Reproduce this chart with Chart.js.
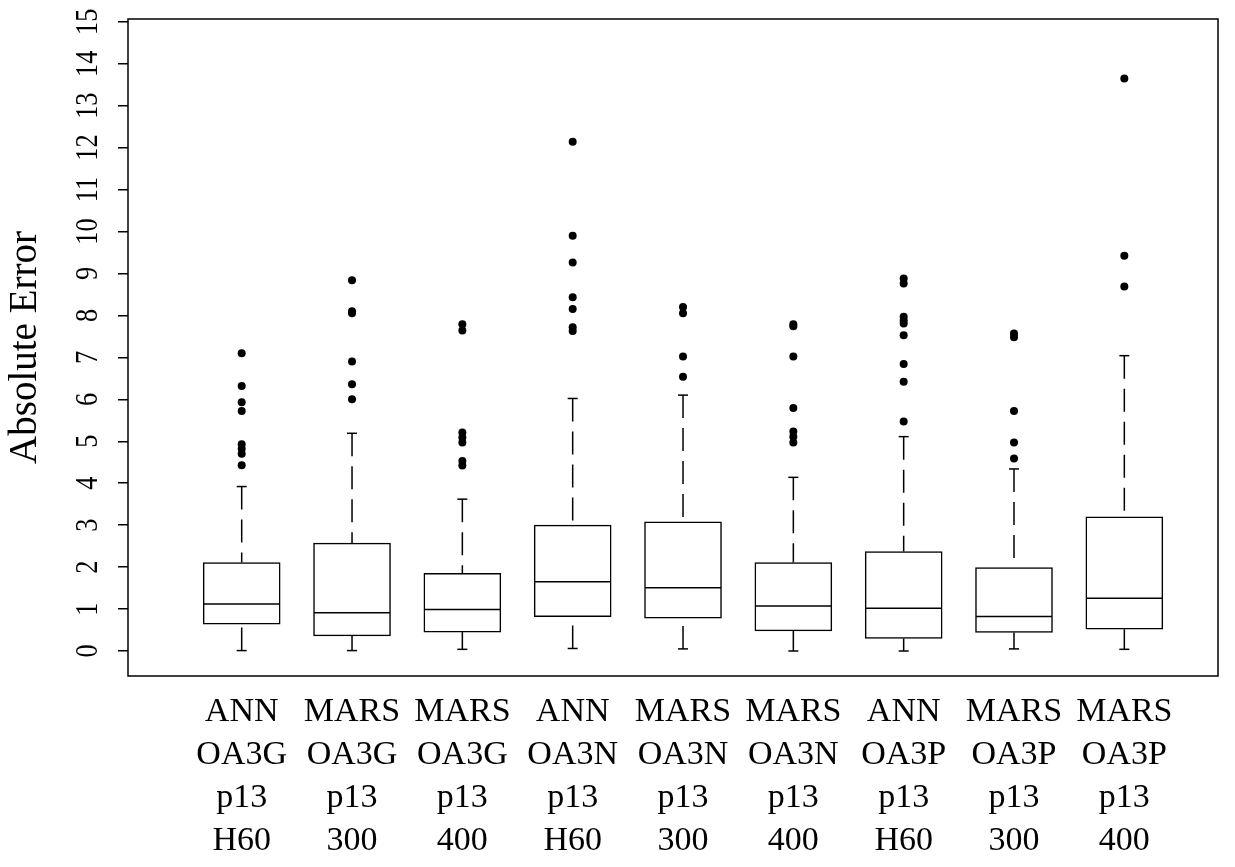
<!DOCTYPE html>
<html>
<head>
<meta charset="utf-8">
<title>Absolute Error</title>
<script src="https://cdn.jsdelivr.net/npm/chart.js@4.4.1/dist/chart.umd.min.js"></script>
<style>
  html, body { margin: 0; padding: 0; background: #fff; }
  #wrap { width: 1235px; height: 867px; position: relative; }
</style>
</head>
<body>
<div id="wrap"><canvas id="boxChart"></canvas></div>
<script>
// Category labels, one entry per box (4 text lines each)
const categories = [
    ['ANN', 'OA3G', 'p13', 'H60'],
    ['MARS', 'OA3G', 'p13', '300'],
    ['MARS', 'OA3G', 'p13', '400'],
    ['ANN', 'OA3N', 'p13', 'H60'],
    ['MARS', 'OA3N', 'p13', '300'],
    ['MARS', 'OA3N', 'p13', '400'],
    ['ANN', 'OA3P', 'p13', 'H60'],
    ['MARS', 'OA3P', 'p13', '300'],
    ['MARS', 'OA3P', 'p13', '400']
];

// Box statistics
const lowerWhisker = [0.01, 0.01, 0.04, 0.06, 0.05, 0.00, 0.00, 0.05, 0.04];
const q1           = [0.64, 0.36, 0.45, 0.82, 0.78, 0.48, 0.30, 0.44, 0.52];
const median       = [1.12, 0.91, 0.99, 1.65, 1.51, 1.07, 1.02, 0.82, 1.26];
const q3           = [2.11, 2.57, 1.85, 3.00, 3.08, 2.11, 2.37, 1.99, 3.20];
const upperWhisker = [3.92, 5.19, 3.62, 6.02, 6.10, 4.14, 5.11, 4.34, 7.04];

// Outliers per box
const outliers = [
    [7.10, 6.32, 5.93, 5.72, 4.93, 4.82, 4.70, 4.43],
    [8.84, 8.10, 8.05, 6.90, 6.36, 6.00],
    [7.79, 7.64, 5.21, 5.09, 4.97, 4.53, 4.42],
    [12.14, 9.90, 9.26, 8.43, 8.15, 7.72, 7.63],
    [8.20, 8.05, 7.02, 6.54],
    [7.79, 7.74, 7.02, 5.79, 5.23, 5.11, 4.97],
    [8.88, 8.76, 7.97, 7.88, 7.81, 7.53, 6.84, 6.42, 5.47],
    [7.57, 7.48, 5.72, 4.97, 4.59],
    [13.65, 9.42, 8.69]
];

const yTicks = [0, 1, 2, 3, 4, 5, 6, 7, 8, 9, 10, 11, 12, 13, 14, 15];
const yTitle = 'Absolute Error';

const FONT = '"Liberation Serif", "Times New Roman", serif';
const positions = categories.map((c, i) => i + 1);

// Whisker segments, drawn from the cap towards the box so the dashes start at the cap
function whiskerPoints(from, to) {
    const pts = [];
    positions.forEach((x, i) => {
        pts.push({ x, y: from[i] }, { x, y: to[i] }, { x, y: null });
    });
    return pts;
}

const capPoints = positions.flatMap((x, i) => [{ x, y: upperWhisker[i] }, { x, y: lowerWhisker[i] }]);
const medianPoints = positions.map((x, i) => ({ x, y: median[i] }));
const outlierPoints = positions.flatMap((x, i) => outliers[i].map(v => ({ x, y: v })));
const boxPoints = positions.map((x, i) => ({ x, y: [q1[i], q3[i]] }));

// Frame, rotated y tick labels and multi-line category labels
const frameAndLabels = {
    id: 'frameAndLabels',
    afterDraw(chart) {
        const { ctx, chartArea: a, scales: { x, y } } = chart;
        ctx.save();
        ctx.strokeStyle = '#000';
        ctx.lineWidth = 1.5;
        ctx.strokeRect(a.left, a.top, a.right - a.left, a.bottom - a.top);

        ctx.fillStyle = '#000';
        ctx.font = `31px ${FONT}`;
        ctx.textAlign = 'center';
        ctx.textBaseline = 'alphabetic';
        yTicks.forEach(v => {
            ctx.save();
            ctx.translate(a.left - 31, y.getPixelForValue(v));
            ctx.rotate(-Math.PI / 2);
            ctx.scale(0.85, 1);
            ctx.fillText(String(v), 0, 0);
            ctx.restore();
        });

        ctx.font = `34px ${FONT}`;
        ctx.textBaseline = 'middle';
        categories.forEach((lines, i) => {
            const px = x.getPixelForValue(positions[i]);
            lines.forEach((t, j) => ctx.fillText(t, px, a.bottom + 36 + j * 43));
        });
        ctx.restore();
    }
};

const ctx = document.getElementById('boxChart').getContext('2d');
const boxChart = new Chart(ctx, {
    type: 'bar',
    data: {
        datasets: [
            {
                type: 'scatter',
                data: medianPoints,
                pointStyle: 'line',
                pointRadius: 38,
                pointBorderWidth: 1.5,
                pointBorderColor: '#000'
            },
            {
                type: 'scatter',
                data: outlierPoints,
                pointStyle: 'circle',
                pointRadius: 4,
                pointBorderWidth: 0,
                pointBackgroundColor: '#000'
            },
            {
                type: 'scatter',
                data: capPoints,
                pointStyle: 'line',
                pointRadius: 5,
                pointBorderWidth: 1.5,
                pointBorderColor: '#000'
            },
            {
                type: 'line',
                data: whiskerPoints(upperWhisker, q3),
                borderColor: '#000',
                borderWidth: 1.5,
                borderDash: [23, 10],
                pointRadius: 0,
                spanGaps: false,
                fill: false
            },
            {
                type: 'line',
                data: whiskerPoints(lowerWhisker, q1),
                borderColor: '#000',
                borderWidth: 1.5,
                borderDash: [23, 10],
                pointRadius: 0,
                spanGaps: false,
                fill: false
            },
            {
                type: 'bar',
                data: boxPoints,
                backgroundColor: '#fff',
                borderColor: '#000',
                borderWidth: 1.5,
                borderSkipped: false,
                barThickness: 77
            }
        ]
    },
    options: {
        responsive: true,
        maintainAspectRatio: false,
        animation: false,
        events: [],
        layout: {
            autoPadding: false,  // the wide median markers would otherwise push the plot area in
            padding: { left: 0, top: 19, right: 17, bottom: 191 }
        },
        plugins: {
            legend: { display: false },
            tooltip: { enabled: false }
        },
        scales: {
            x: {
                type: 'linear',
                display: false,
                offset: false,
                min: -0.0305,
                max: 9.849
            },
            y: {
                type: 'linear',
                min: -0.596,
                max: 15.066,
                afterBuildTicks: scale => {
                    scale.ticks = yTicks.map(v => ({ value: v }));
                },
                afterFit: scale => {
                    scale.width = 128;
                },
                ticks: { display: false },
                border: { display: false },
                grid: {
                    drawOnChartArea: false,
                    drawTicks: true,
                    tickLength: 10,
                    color: '#000',
                    lineWidth: 1.5
                },
                title: {
                    display: true,
                    text: yTitle,
                    color: '#000',
                    font: { family: FONT, size: 39 },
                    padding: { top: 2, bottom: 0 }
                }
            }
        }
    },
    plugins: [frameAndLabels]
});
</script>
</body>
</html>
